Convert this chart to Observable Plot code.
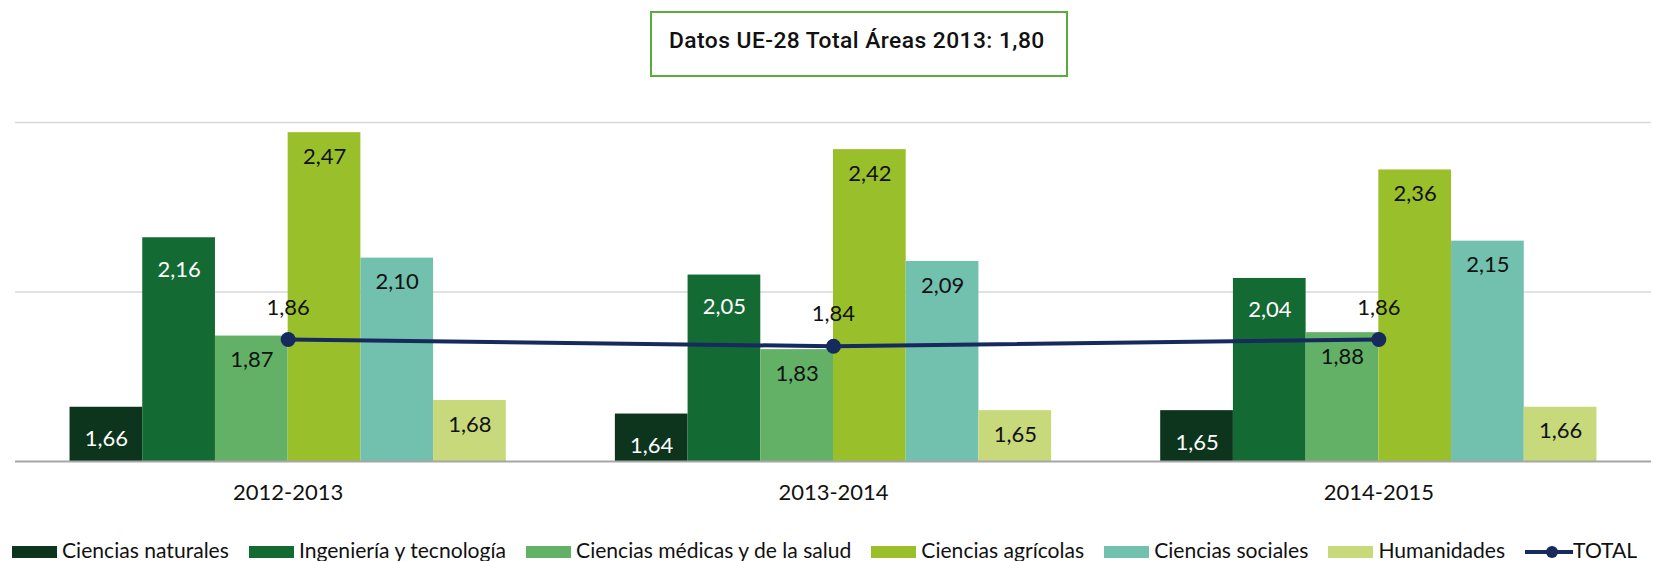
<!DOCTYPE html>
<html><head><meta charset="utf-8">
<script src="https://cdn.jsdelivr.net/npm/d3@7"></script>
<script src="https://cdn.jsdelivr.net/npm/@observablehq/plot@0.6"></script>
<style>
html,body{margin:0;padding:0;background:#fff;overflow:hidden;width:1653px;height:561px}
#title{box-sizing:border-box;margin:11px 0 0 650px;width:418px;height:66px;border:2px solid #5aab3e;font-family:Roboto,sans-serif;font-weight:500;font-size:22.8px;letter-spacing:0.45px;color:#111;padding-left:17px;line-height:56px;white-space:nowrap}
#chart{margin-top:13px;height:420px}
#chart svg{display:block}
#legend{margin-top:27px;margin-left:12px;font-family:Lato,sans-serif;font-size:21.1px;line-height:26px;color:#111;white-space:nowrap}
.item{display:inline-block;margin-right:20px}
.sw{display:inline-block;width:45px;height:12px;margin-right:5px}
.tot svg{display:inline-block;vertical-align:baseline;margin-bottom:-1px}
</style></head>
<body>
<div id="title">Datos UE-28 Total Áreas 2013: 1,80</div>
<div id="chart"></div>
<div id="legend"></div>
<script>
const years = ["2012-2013", "2013-2014", "2014-2015"];
const categories = ["Ciencias naturales", "Ingeniería y tecnología", "Ciencias médicas y de la salud", "Ciencias agrícolas", "Ciencias sociales", "Humanidades"];
const colors = ["#0d341c", "#136a32", "#63b167", "#99c02a", "#72c0ae", "#c8d97b"];
const cienciasNaturales = [1.66, 1.64, 1.65];
const ingenieria = [2.16, 2.05, 2.04];
const medicas = [1.87, 1.83, 1.88];
const agricolas = [2.47, 2.42, 2.36];
const sociales = [2.10, 2.09, 2.15];
const humanidades = [1.68, 1.65, 1.66];
const total = [1.86, 1.84, 1.86];
const totalLabel = "TOTAL";
const gridTicks = [2.0, 2.5];
const yDomain = [1.5, 2.5];
const lineColor = "#172a5e";

const series = [cienciasNaturales, ingenieria, medicas, agricolas, sociales, humanidades];
const rows = [];
series.forEach((vals, j) => vals.forEach((v, i) => rows.push({i, j, cat: categories[j], value: v})));
const totals = total.map((v, i) => ({i, value: v}));

const groupPad = 0.1, barW = 0.8 / categories.length;
const x1 = d => d.i + groupPad + d.j * barW;
const x2 = d => d.i + groupPad + (d.j + 1) * barW;
const xc = d => d.i + groupPad + (d.j + 0.5) * barW;
const fmt = v => v.toFixed(2).replace(".", ",");

const chart = Plot.plot({
  width: 1653, height: 420,
  marginLeft: 15, marginRight: 2, marginTop: 32, marginBottom: 49,
  style: {fontFamily: "Lato, sans-serif", fontSize: "22px", background: "#fff"},
  x: {domain: [0, years.length], axis: null},
  y: {domain: yDomain, axis: null},
  color: {domain: categories, range: colors},
  marks: [
    Plot.ruleY(gridTicks, {stroke: "#d9d9d9", strokeWidth: 1.5}),
    Plot.rectY(rows, {x1, x2, y1: yDomain[0], y2: "value", fill: "cat"}),
    Plot.ruleY([yDomain[0]], {stroke: "#a6a6a6", strokeWidth: 2}),
    Plot.text(rows, {filter: d => d.j < 2, x: xc, y: "value", text: d => fmt(d.value), dy: 32, fill: "#fff", fontSize: 22}),
    Plot.text(rows, {filter: d => d.j >= 2, x: xc, y: "value", text: d => fmt(d.value), dy: 24, fill: "#111", fontSize: 22}),
    Plot.line(totals, {x: d => d.i + 0.5, y: "value", stroke: lineColor, strokeWidth: 4}),
    Plot.dot(totals, {x: d => d.i + 0.5, y: "value", r: 7.5, fill: lineColor}),
    Plot.text(totals, {x: d => d.i + 0.5, y: "value", text: d => fmt(d.value), dy: -32, fill: "#111", fontSize: 22}),
    Plot.axisX(years.map((_, i) => i + 0.5), {tickSize: 0, tickPadding: 23, tickFormat: d => years[Math.floor(d)], fontSize: 22, fill: "#111", label: null})
  ]
});
document.getElementById("chart").appendChild(chart);

const legend = document.getElementById("legend");
categories.forEach((c, j) => {
  const it = document.createElement("span");
  it.className = "item";
  const sw = document.createElement("span");
  sw.className = "sw";
  sw.style.background = colors[j];
  it.appendChild(sw);
  it.appendChild(document.createTextNode(c));
  legend.appendChild(it);
});
const tot = document.createElement("span");
tot.className = "item tot";
tot.innerHTML = `<svg width="48" height="14"><line x1="0" x2="48" y1="7" y2="7" stroke="${lineColor}" stroke-width="4"/><circle cx="27" cy="7" r="6" fill="${lineColor}"/></svg>`;
tot.appendChild(document.createTextNode(totalLabel));
legend.appendChild(tot);
</script>
</body></html>
